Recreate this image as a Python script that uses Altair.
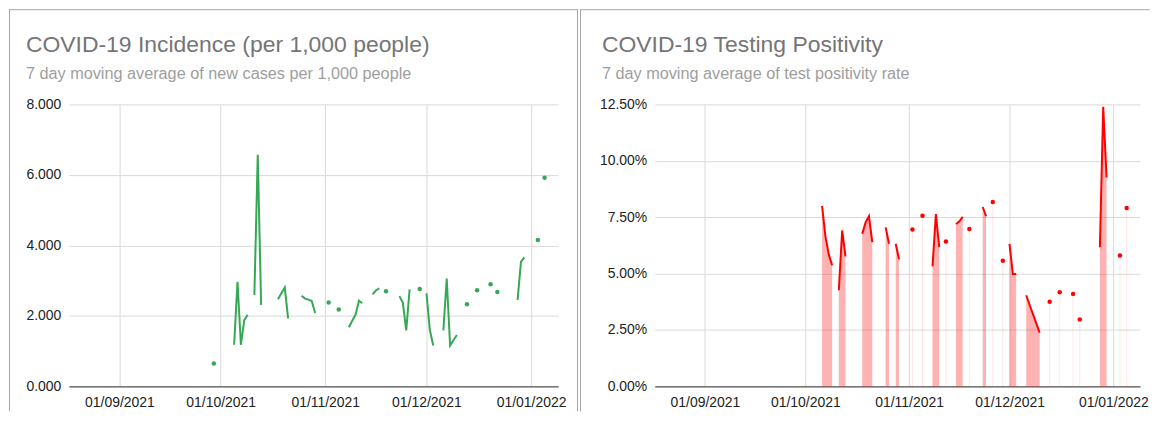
import altair as alt
import pandas as pd

# ---------------- data ----------------
inc_dates = ["2021-09-29", "2021-10-05", "2021-10-06", "2021-10-07", "2021-10-08", "2021-10-09",
             "2021-10-11", "2021-10-12", "2021-10-13", "2021-10-18", "2021-10-19", "2021-10-20",
             "2021-10-21", "2021-10-25", "2021-10-26", "2021-10-27", "2021-10-28", "2021-10-29",
             "2021-11-02", "2021-11-05", "2021-11-08", "2021-11-09", "2021-11-10", "2021-11-11",
             "2021-11-12", "2021-11-15", "2021-11-16", "2021-11-17", "2021-11-19", "2021-11-23",
             "2021-11-24", "2021-11-25", "2021-11-26", "2021-11-29", "2021-12-01", "2021-12-02",
             "2021-12-03", "2021-12-06", "2021-12-07", "2021-12-08", "2021-12-09", "2021-12-10",
             "2021-12-13", "2021-12-16", "2021-12-20", "2021-12-22", "2021-12-28", "2021-12-29",
             "2021-12-30", "2022-01-03", "2022-01-05"]
inc_values = [0.65, 1.18, 2.97, 1.18, 1.88, 2.03,
              2.59, 6.57, 2.31, 2.47, 2.64, 2.81,
              1.93, 2.57, 2.49, 2.46, 2.42, 2.08,
              2.38, 2.18, 1.68, 1.86, 2.04, 2.43,
              2.36, 2.61, 2.72, 2.78, 2.70, 2.56,
              2.37, 1.59, 2.75, 2.76, 2.64, 1.60,
              1.16, 1.59, 3.06, 1.16, 1.31, 1.46,
              2.33, 2.73, 2.90, 2.68, 2.45, 3.53,
              3.66, 4.15, 5.92]

pos_dates = ["2021-10-06", "2021-10-07", "2021-10-08", "2021-10-09", "2021-10-11", "2021-10-12",
             "2021-10-13", "2021-10-18", "2021-10-19", "2021-10-20", "2021-10-21", "2021-10-25",
             "2021-10-26", "2021-10-28", "2021-10-29", "2021-11-02", "2021-11-05", "2021-11-08",
             "2021-11-09", "2021-11-10", "2021-11-12", "2021-11-15", "2021-11-16", "2021-11-17",
             "2021-11-19", "2021-11-23", "2021-11-24", "2021-11-26", "2021-11-29", "2021-12-01",
             "2021-12-02", "2021-12-03", "2021-12-06", "2021-12-07", "2021-12-08", "2021-12-09",
             "2021-12-10", "2021-12-13", "2021-12-16", "2021-12-20", "2021-12-22", "2021-12-28",
             "2021-12-29", "2021-12-30", "2022-01-03", "2022-01-05"]
pos_values = [8.00, 6.65, 5.85, 5.37, 4.26, 6.91,
              5.76, 6.76, 7.27, 7.54, 6.39, 7.05,
              6.32, 6.32, 5.63, 6.95, 7.56, 5.32,
              7.64, 6.17, 6.42, 7.20, 7.31, 7.52,
              6.98, 7.95, 7.54, 8.17, 5.57, 6.32,
              4.98, 4.98, 4.04, 3.62, 3.20, 2.79,
              2.38, 3.75, 4.17, 4.10, 2.97, 6.17,
              12.39, 9.26, 5.80, 7.91]  # percent

range_start = (2021, 8, 17)
range_end = (2022, 1, 9)
tick_months = [(2021, 9), (2021, 10), (2021, 11), (2021, 12), (2022, 1)]
inc_ticks = [0, 2, 4, 6, 8]
pos_ticks = [0, 0.025, 0.05, 0.075, 0.10, 0.125]

inc_title = "COVID-19 Incidence (per 1,000 people)"
inc_subtitle = "7 day moving average of new cases per 1,000 people"
pos_title = "COVID-19 Testing Positivity"
pos_subtitle = "7 day moving average of test positivity rate"

# ---------------- styling ----------------
FONT = "Liberation Sans"
GREEN = "#34a853"
RED = "#ff0000"
BORDER = "#a6a6a6"
GRID = "#d9d9d9"
W_L, W_R, H = 491, 487, 283


def daily(dates, values, scale=1.0):
    idx = pd.date_range(pd.Timestamp(*range_start), pd.Timestamp(*range_end), freq="D")
    s = pd.Series([v / scale for v in values], index=pd.to_datetime(dates), dtype=float).reindex(idx)
    iso = s.notna() & s.shift(1).isna() & s.shift(-1).isna()
    return pd.DataFrame({"date": idx.strftime("%Y-%m-%dT00:00:00"),
                         "value": s.values,
                         "isolated": iso.values})


inc_df = daily(inc_dates, inc_values)
pos_df = daily(pos_dates, pos_values, 100.0)

x_scale = alt.Scale(domain=[alt.DateTime(year=range_start[0], month=range_start[1], date=range_start[2]),
                            alt.DateTime(year=range_end[0], month=range_end[1], date=range_end[2])])
x_axis = alt.Axis(values=[alt.DateTime(year=y, month=m, date=1) for y, m in tick_months],
                  format="%d/%m/%Y", title=None, grid=True, ticks=False, labelPadding=9,
                  labelFlush=False, labelOverlap=False, labelAngle=0,
                  domain=True, domainColor="#333333", domainWidth=1)


def y_axis(vals, fmt):
    return alt.Axis(values=vals, format=fmt, title=None, grid=True, ticks=False,
                    domain=False, labelPadding=8)


def deco():
    return alt.Chart(alt.Data(values=[{}]))


def hline(x1, x2, y):
    return deco().mark_rule(color=BORDER, strokeWidth=1).encode(
        x=alt.value(x1), x2=alt.value(x2), y=alt.value(y))


def vline(x, y1, y2):
    return deco().mark_rule(color=BORDER, strokeWidth=1).encode(
        x=alt.value(x), y=alt.value(y1), y2=alt.value(y2))


def text(t, x, y, size, color):
    return deco().mark_text(text=t, align="left", baseline="alphabetic", font=FONT,
                            fontSize=size, color=color).encode(x=alt.value(x), y=alt.value(y))


# ---------------- left panel ----------------
X = alt.X("date:T", scale=x_scale, axis=x_axis)
inc_y = alt.Y("value:Q", scale=alt.Scale(domain=[0, 8]), axis=y_axis(inc_ticks, ".3f"))

inc_line = alt.Chart(inc_df).mark_line(color=GREEN, strokeWidth=2).encode(x=X, y=inc_y)
inc_pts = alt.Chart(inc_df).transform_filter("datum.isolated").mark_circle(
    color=GREEN, size=20, opacity=1).encode(x=X, y=inc_y)

left = alt.layer(
    inc_line, inc_pts,
    hline(-60, 511, -95),
    vline(-59.5, -95.5, 308),
    vline(510.5, -95.5, 308),
    text(inc_title, -43, -53, 23, "#757575"),
    text(inc_subtitle, -43, -25, 16.3, "#9e9e9e"),
).properties(width=W_L, height=H)

# ---------------- right panel ----------------
pos_y = alt.Y("value:Q", scale=alt.Scale(domain=[0, 0.125]), axis=y_axis(pos_ticks, ".2%"))

pos_area = alt.Chart(pos_df).mark_area(color=RED, opacity=0.3).encode(x=X, y=pos_y)
pos_stems = alt.Chart(pos_df).transform_filter("datum.isolated").mark_rule(
    color=RED, opacity=0.1, strokeWidth=1).encode(x=X, y=pos_y, y2=alt.datum(0))
pos_line = alt.Chart(pos_df).mark_line(color=RED, strokeWidth=2).encode(x=X, y=pos_y)
pos_pts = alt.Chart(pos_df).transform_filter("datum.isolated").mark_circle(
    color=RED, size=20, opacity=1).encode(x=X, y=pos_y)

right = alt.layer(
    pos_area, pos_stems, pos_line, pos_pts,
    hline(-75, 497, -95),
    vline(-74.5, -95.5, 308),
    text(pos_title, -53, -53, 23, "#757575"),
    text(pos_subtitle, -53, -25, 16.3, "#9e9e9e"),
).properties(width=W_R, height=H)

chart = alt.hconcat(left, right, spacing=0).properties(padding=0).configure_view(
    stroke=None
).configure_axis(
    labelFont=FONT, labelFontSize=14, labelColor="#222222", gridColor=GRID, gridWidth=1
)

chart.save("out.html", embed_options={"renderer": "svg", "actions": False})
